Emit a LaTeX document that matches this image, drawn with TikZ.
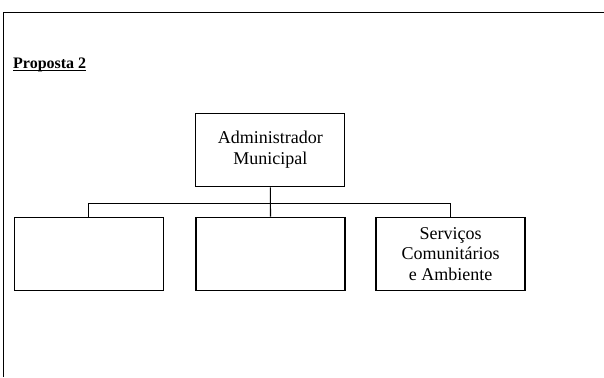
\documentclass[tikz,border=0pt]{standalone}
\usepackage{fontspec}
\setmainfont{Liberation Serif}
\newcommand\myul[1]{\setbox0\hbox{#1}\rlap{\rule[-2.4pt]{\wd0}{0.9pt}}\box0}
\begin{document}
\begin{tikzpicture}[x=1pt,y=-1pt,
  orgbox/.style={draw, line width=1.1pt, minimum width=149pt, minimum height=73.5pt, inner sep=0pt, align=center, font=\fontsize{18}{20.8}\selectfont},
  link/.style={draw, line width=1.1pt}]
\useasboundingbox (0,0) rectangle (604,377);
\draw[line width=1pt] (3.5,377) -- (3.5,13) -- (604,13);
\node[anchor=base west, inner sep=0pt, font=\fontsize{16}{18}\selectfont\bfseries] (title) at (13,69) {\myul{Proposta 2}};
\node[orgbox] (top) at (270.3,150) {Administrador\\Municipal};
\node[orgbox] (b1) at (88.7,254) {};
\node[orgbox] (b2) at (270.5,254) {};
\node[orgbox] (b3) at (450.5,254) {Serviços\\Comunitários\\e Ambiente};
\coordinate (bus) at (270.3,203.5);
\draw[link] (top.south) -- (b2.north);
\draw[link] (b1.north) -- (b1.north |- bus) -- (b3.north |- bus) -- (b3.north);
\end{tikzpicture}
\end{document}
